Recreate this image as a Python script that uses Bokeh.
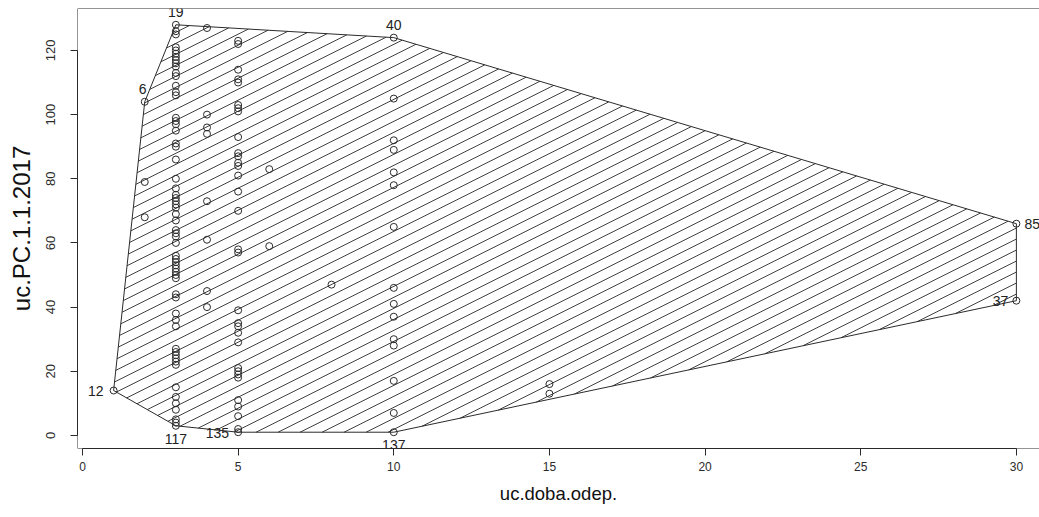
import numpy as np
from bokeh.plotting import figure
from bokeh.models import Range1d, Span, FixedTicker, ColumnDataSource
from bokeh.core.properties import value
from bokeh.embed import file_html
from bokeh.resources import INLINE

# ---- data: uc.PC.1.1.2017 values grouped by uc.doba.odep. ----
pc_at_1 = [14]
pc_at_2 = [104, 79, 68]
pc_at_3 = [128, 126, 125, 121, 120, 119, 118, 117, 116, 115, 113, 112, 109, 107, 106,
           99, 98, 97, 95, 91, 90, 86, 80, 77, 75, 74, 73, 72, 71, 69, 67, 64, 63, 62,
           60, 56, 55, 54, 53, 52, 51, 50, 49, 44, 43, 38, 36, 34, 27, 26, 25, 24, 23,
           22, 15, 12, 10, 8, 5, 4, 3]
pc_at_4 = [127, 100, 96, 94, 73, 61, 45, 40]
pc_at_5 = [123, 122, 114, 111, 110, 103, 102, 101, 93, 88, 87, 85, 84, 81, 76, 70,
           58, 57, 39, 35, 34, 32, 29, 21, 20, 19, 18, 11, 9, 6, 2, 1]
pc_at_6 = [83, 59]
pc_at_8 = [47]
pc_at_10 = [124, 105, 92, 89, 82, 78, 65, 46, 41, 37, 30, 28, 17, 7, 1]
pc_at_15 = [16, 13]
pc_at_30 = [66, 42]

doba_levels = [1, 2, 3, 4, 5, 6, 8, 10, 15, 30]
pc_groups = [pc_at_1, pc_at_2, pc_at_3, pc_at_4, pc_at_5, pc_at_6, pc_at_8,
             pc_at_10, pc_at_15, pc_at_30]

# hull-vertex labels (row ids) and the points they belong to
label_text = ["12", "6", "19", "40", "85", "37", "137", "135", "117"]
label_x = [1, 2, 3, 10, 30, 30, 10, 5, 3]
label_y = [14, 104, 128, 124, 66, 42, 1, 1, 3]

x_ticks = [0, 5, 10, 15, 20, 25, 30]
y_ticks = [0, 20, 40, 60, 80, 100, 120]

# ---- derived ----
xs, ys = [], []
for d, grp in zip(doba_levels, pc_groups):
    xs += [d] * len(grp)
    ys += grp
xs = np.array(xs, float)
ys = np.array(ys, float)

def convex_hull(pts):
    pts = sorted(set(pts))
    def cross(o, a, b):
        return (a[0]-o[0])*(b[1]-o[1]) - (a[1]-o[1])*(b[0]-o[0])
    lower, upper = [], []
    for p_ in pts:
        while len(lower) >= 2 and cross(lower[-2], lower[-1], p_) <= 0:
            lower.pop()
        lower.append(p_)
    for p_ in reversed(pts):
        while len(upper) >= 2 and cross(upper[-2], upper[-1], p_) <= 0:
            upper.pop()
        upper.append(p_)
    return lower[:-1] + upper[:-1]

hull = convex_hull(list(zip(xs.tolist(), ys.tolist())))
hx = [h[0] for h in hull]
hy = [h[1] for h in hull]

# R-like ranges (4% expansion)
xr = xs.max() - xs.min()
yr = ys.max() - ys.min()
x_start = xs.min() - 0.04 * xr
y_start = ys.min() - 0.04 * yr
y_end = ys.max() + 0.04 * yr

W, H = 1039, 517
left, top, bottom = 77, 8, 69
frame_w = W - left
frame_h = H - top - bottom
px_per_x = 31.13
x_end = x_start + frame_w / px_per_x
px_per_y = frame_h / (y_end - y_start)

# hatch lines (screen slope 0.5, vertical spacing 11 px), clipped to hull
slope = 0.5
gap = 11.0
PX = [(a - x_start) * px_per_x for a in hx]
PY = [(b - y_start) * px_per_y for b in hy]
n = len(PX)
hx0, hy0, hx1, hy1 = [], [], [], []
cvals = [PY[i] - slope * PX[i] for i in range(n)]
c = np.floor(min(cvals) / gap) * gap + 4.0
while c < max(cvals):
    pts_ = []
    for i in range(n):
        j = (i + 1) % n
        fi = PY[i] - slope * PX[i] - c
        fj = PY[j] - slope * PX[j] - c
        if (fi < 0 <= fj) or (fj < 0 <= fi):
            t = fi / (fi - fj)
            pts_.append((PX[i] + t * (PX[j] - PX[i]), PY[i] + t * (PY[j] - PY[i])))
    if len(pts_) >= 2:
        pts_.sort()
        (ax, ay), (bx, by) = pts_[0], pts_[-1]
        hx0.append(ax / px_per_x + x_start)
        hy0.append(ay / px_per_y + y_start)
        hx1.append(bx / px_per_x + x_start)
        hy1.append(by / px_per_y + y_start)
    c += gap

FONT = "Liberation Sans"
INK = "#2b2b2b"

p = figure(width=W, height=H, output_backend="svg", toolbar_location=None,
           x_range=Range1d(x_start, x_end), y_range=Range1d(y_start, y_end),
           min_border_left=left, min_border_top=top, min_border_bottom=bottom,
           min_border_right=0)
p.outline_line_color = None
p.grid.visible = False
p.background_fill_color = "white"
p.border_fill_color = "white"

# box (left, top, bottom)
p.add_layout(Span(location=x_start, dimension="height", line_color=INK, line_width=1))
for loc in [y_start, y_end]:
    p.add_layout(Span(location=loc, dimension="width", line_color=INK, line_width=1))

p.segment(hx0, hy0, hx1, hy1, line_color=INK, line_width=0.9)
p.patch(hx + [hx[0]], hy + [hy[0]], fill_color=None, line_color=INK, line_width=1)
p.scatter(xs, ys, marker="circle", size=7, fill_color=None, line_color=INK, line_width=1)

# labels
dx_map = {"12": -10, "6": -2, "19": 0, "40": 0, "85": 8, "37": -8, "137": 0, "135": -9, "117": 0}
dy_map = {"12": 0, "6": -13, "19": -13, "40": -13, "85": 0, "37": 0, "137": 13, "135": 1, "117": 13}
al_map = {"12": "right", "6": "center", "19": "center", "40": "center", "85": "left",
          "37": "right", "137": "center", "135": "right", "117": "center"}
src = ColumnDataSource(dict(x=label_x, y=label_y, t=label_text,
                            dx=[dx_map[t] for t in label_text],
                            dy=[dy_map[t] for t in label_text],
                            al=[al_map[t] for t in label_text]))
p.text(x="x", y="y", text="t", x_offset="dx", y_offset="dy", text_align="al",
       text_baseline="middle", text_font=value(FONT), text_font_size="14px",
       text_color="#222222", source=src)

for ax in p.xaxis:
    ax.ticker = FixedTicker(ticks=x_ticks)
    ax.bounds = (x_ticks[0], x_ticks[-1])
    ax.axis_label = "uc.doba.odep."
    ax.axis_label_text_font_size = "18.5px"
    ax.major_label_text_font_size = "12px"
for ax in p.yaxis:
    ax.ticker = FixedTicker(ticks=y_ticks)
    ax.bounds = (y_ticks[0], y_ticks[-1])
    ax.axis_label = "uc.PC.1.1.2017"
    ax.major_label_orientation = "vertical"
    ax.axis_label_text_font_size = "24px"
    ax.major_label_text_font_size = "13px"
for ax in list(p.xaxis) + list(p.yaxis):
    ax.axis_line_color = INK
    ax.major_tick_line_color = INK
    ax.minor_tick_line_color = None
    ax.major_tick_out = 7
    ax.major_tick_in = 0
    ax.major_label_text_font = FONT
    ax.major_label_text_color = INK
    ax.axis_label_text_font = FONT
    ax.axis_label_text_font_style = "normal"
    ax.axis_label_text_color = "#111111"
p.xaxis.major_label_standoff = 6
p.xaxis.axis_label_standoff = 9
p.yaxis.major_label_standoff = 15
p.yaxis.axis_label_standoff = 9

open("out.html", "w").write(file_html(p, INLINE))
